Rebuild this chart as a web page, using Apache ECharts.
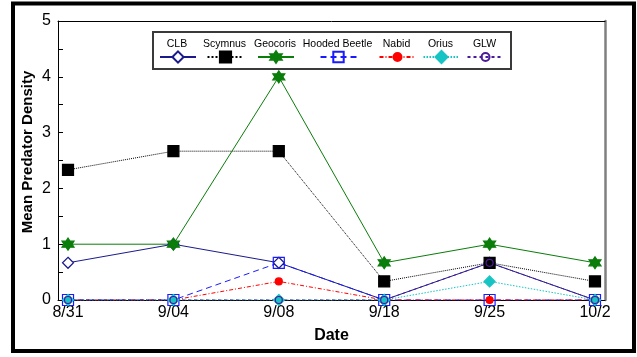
<!DOCTYPE html>
<html><head><meta charset="utf-8">
<script src="https://cdn.jsdelivr.net/npm/echarts@6/dist/echarts.min.js"></script>
<style>html,body{margin:0;padding:0;background:#fff}#c{width:637px;height:357px}</style>
</head><body><div id="c"></div>
<script>
var dates = ['8/31','9/04','9/08','9/18','9/25','10/2'];
var yTicks = [0,1,2,3,4,5];
var clb      = [0.667, 1, 0.667, 0, 0.667, 0];
var scymnus  = [2.333, 2.667, 2.667, 0.333, 0.667, 0.333];
var geocoris = [1, 1, 4, 0.667, 1, 0.667];
var hooded   = [0, 0, 0.667, 0, 0, 0];
var nabid    = [0, 0, 0.333, 0, 0, 0];
var orius    = [0, 0, 0, 0, 0.333, 0];
var glw      = [0, 0, 0, 0, 0.667, 0];

var FONT = '"Liberation Sans", Arial, sans-serif';
var star = 'path://M0,-10 L8.66,5 L-8.66,5 Z M0,10 L-8.66,-5 L8.66,-5 Z';

function pts(arr){ return arr.map(function(v,i){ return [i, v]; }); }

var defs = [
  {name:'CLB', data:clb, color:'#1a1a8c', symbol:'diamond', size:11, fill:'#ffffff', line:'solid', lh:14, cx:177},
  {name:'Scymnus', data:scymnus, color:'#000000', symbol:'rect', size:11, fill:'#000000', line:'dotted', lh:14, cx:224.5},
  {name:'Geocoris', data:geocoris, color:'#0a7d0a', symbol:star, size:12, fill:'#0a7d0a', line:'solid', lh:14, cx:275},
  {name:'Hooded Beetle', data:hooded, color:'#1a1aff', symbol:'rect', size:11, fill:'rgba(0,0,0,0)', line:[6,4], lh:13, cx:337.5},
  {name:'Nabid', data:nabid, color:'#ff0000', symbol:'circle', size:7, fill:'#ff0000', line:[4,2,1,2], lh:10, cx:396.5},
  {name:'Orius', data:orius, color:'#17c4c4', symbol:'diamond', size:11, fill:'#17c4c4', line:[1.5,1.5], lh:15, cx:440.5},
  {name:'GLW', data:glw, color:'#4b1a9a', symbol:'circle', size:7, fill:'rgba(0,0,0,0)', line:[3,3], lh:10, cx:484.5}
];

var series = defs.map(function(d){
  return {
    name:d.name, type:'line', data:pts(d.data), symbol:d.symbol, symbolSize:d.size,
    lineStyle:{color:d.color, width:1, type:d.line},
    itemStyle:{color:d.fill, borderColor:d.color, borderWidth:1.2},
    emphasis:{disabled:true}, animation:false, z:3
  };
});

var legends = defs.map(function(d){
  return {
    data:[d.name], left:d.cx-18, top:57 - d.lh/2, itemWidth:36, itemHeight:d.lh,
    padding:0, selectedMode:false, formatter:function(){return '';},
    textStyle:{fontSize:1}
  };
});

var graphics = [
  {type:'rect', shape:{x:13, y:3.5, width:621, height:347.5}, style:{fill:'none', stroke:'#000', lineWidth:4}, z:10},
  {type:'rect', shape:{x:153, y:32, width:358, height:37}, style:{fill:'#fff', stroke:'#3a3a3a', lineWidth:2}, z:-1, zlevel:0},
  {type:'text', x:28, y:152, rotation:Math.PI/2, style:{text:'Mean Predator Density', font:'bold 15px ' + FONT, fill:'#000', align:'center', verticalAlign:'middle'}}
];
defs.forEach(function(d){
  graphics.push({type:'text', x:d.cx, y:44, style:{text:d.name, font:'10.5px ' + FONT, fill:'#000', align:'center', verticalAlign:'middle'}});
});

var chart = echarts.init(document.getElementById('c'), null, {renderer:'canvas'});
chart.setOption({
  backgroundColor:'#fff',
  animation:false,
  grid:{left:58, top:21, right:32, bottom:57},
  legend:legends,
  xAxis:[{
    type:'value', min:-0.095, max:5.095,
    axisLine:{onZero:false, lineStyle:{color:'#000', width:1}},
    axisTick:{show:true, inside:true, length:5, customValues:[0,1,2,3,4,5], lineStyle:{color:'#000'}},
    axisLabel:{customValues:[0,1,2,3,4,5], formatter:function(v){ return dates[Math.round(v)]; }, fontSize:16, fontFamily:FONT, color:'#000', margin:5},
    splitLine:{show:false},
    name:'Date', nameLocation:'middle', nameGap:28, nameTextStyle:{fontSize:16, fontWeight:'bold', fontFamily:FONT, color:'#000'}
  },{
    type:'value', position:'top', min:-0.095, max:5.095,
    axisLine:{show:true, onZero:false, lineStyle:{color:'#000', width:1}},
    axisTick:{show:false}, axisLabel:{show:false}, splitLine:{show:false}
  }],
  yAxis:[{
    type:'value', min:0, max:5, interval:1,
    axisLine:{show:true, onZero:false, lineStyle:{color:'#000', width:1}},
    axisTick:{show:true, inside:true, length:5, lineStyle:{color:'#000'}},
    minorTick:{show:true, splitNumber:2, length:5, lineStyle:{color:'#000'}},
    axisLabel:{fontSize:16, fontFamily:FONT, color:'#000', margin:7, formatter:function(v){ return yTicks.indexOf(v) >= 0 ? String(v) : ''; }},
    splitLine:{show:false}
  },{
    type:'value', position:'right', min:0, max:5,
    axisLine:{show:true, onZero:false, lineStyle:{color:'#808080', width:2.5}},
    axisTick:{show:false}, axisLabel:{show:false}, splitLine:{show:false}
  }],
  series:series,
  graphic:graphics
});
</script></body></html>
